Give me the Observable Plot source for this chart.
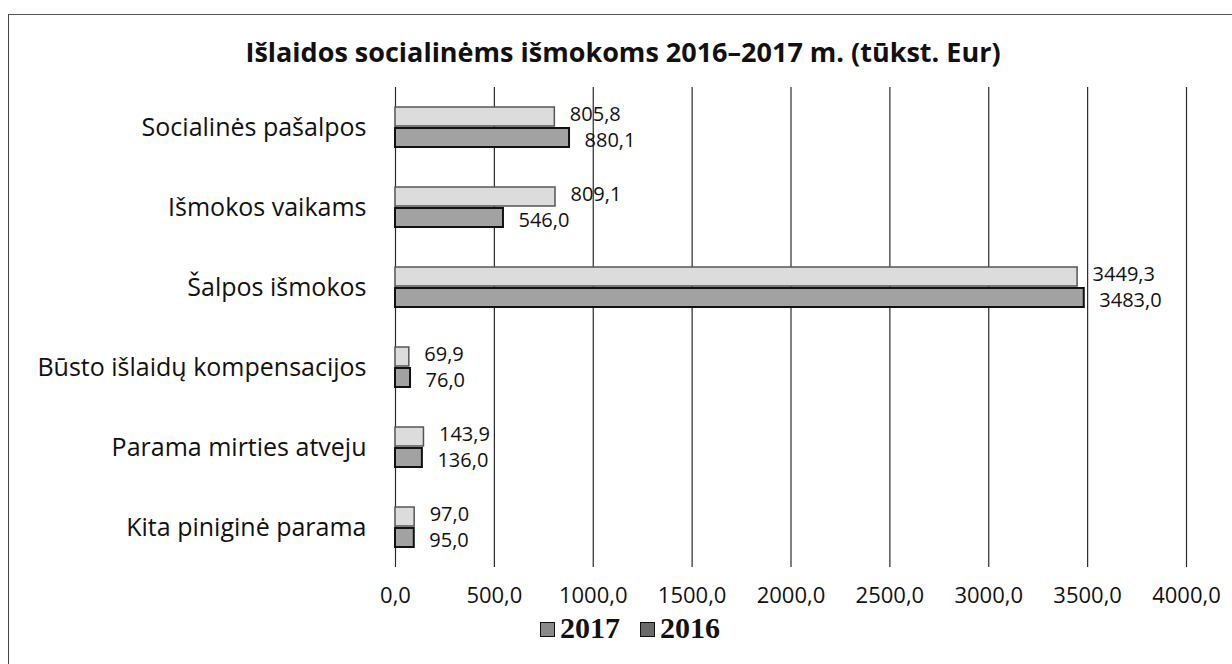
<!DOCTYPE html>
<html>
<head>
<meta charset="utf-8">
<script src="https://cdn.jsdelivr.net/npm/d3@7"></script>
<script src="https://cdn.jsdelivr.net/npm/@observablehq/plot@0.6"></script>
<style>
  html, body { margin: 0; padding: 0; background: #fff; }
  #wrap { position: relative; width: 1232px; height: 664px; overflow: hidden; background: #fff; }
  #border { position: absolute; left: 8px; top: 14px; width: 1400px; height: 800px;
            border-left: 1.5px solid #444; border-top: 1.5px solid #555; }
  #title { position: absolute; left: 0; top: 40px; width: 1246px; text-align: center;
           font-family: "Open Sans", sans-serif; font-weight: 700; font-size: 27px; line-height: 24px; color: #111; }
  #chart { position: absolute; left: 0; top: 70px; }
  #legend { position: absolute; left: 540px; top: 613px; display: flex; align-items: center;
            font-family: "Liberation Serif", "DejaVu Serif", serif; font-weight: 700; font-size: 30px; line-height: 30px; color: #111; }
  .sw { display: inline-block; width: 13px; height: 13px; margin-right: 5px; margin-top: 3px; }
  .item { display: flex; align-items: center; margin-right: 20px; }
</style>
</head>
<body>
<div id="wrap">
  <div id="border"></div>
  <div id="title">Išlaidos socialinėms išmokoms 2016–2017 m. (tūkst. Eur)</div>
  <div id="chart"></div>
  <div id="legend"></div>
</div>
<script>
const categories = ["Socialinės pašalpos", "Išmokos vaikams", "Šalpos išmokos", "Būsto išlaidų kompensacijos", "Parama mirties atveju", "Kita piniginė parama"];
const years = ["2017", "2016"];
const values2017 = [805.8, 809.1, 3449.3, 69.9, 143.9, 97.0];
const values2016 = [880.1, 546.0, 3483.0, 76.0, 136.0, 95.0];
const xTicks = [0, 500, 1000, 1500, 2000, 2500, 3000, 3500, 4000];

const yearStyle = {
  "2017": {fill: "#dcdcdc", stroke: "#555", strokeWidth: 1.5, dy: -2},
  "2016": {fill: "#a2a2a2", stroke: "#111", strokeWidth: 2, dy: 3}
};

const rows = [];
categories.forEach((c, i) => {
  rows.push({category: c, year: "2017", value: values2017[i]});
  rows.push({category: c, year: "2016", value: values2016[i]});
});
const fmt = v => v.toFixed(1).replace(".", ",");

const plot = Plot.plot({
  width: 1232,
  height: 545,
  marginLeft: 395,
  marginRight: 46,
  marginTop: 17,
  marginBottom: 48,
  style: {fontFamily: "'Open Sans', sans-serif", background: "transparent", color: "#111"},
  x: {domain: [0, 4000]},
  y: {domain: years, paddingInner: 0.1, paddingOuter: 0.95, axis: null},
  fy: {domain: categories, padding: 0},
  marks: [
    Plot.gridX(xTicks, {stroke: "#2a2a2a", strokeOpacity: 1, strokeWidth: 1.2}),
    ...years.map(yr => Plot.barX(rows.filter(d => d.year === yr), {
      x: "value", y: "year", fy: "category",
      fill: yearStyle[yr].fill, stroke: yearStyle[yr].stroke, strokeWidth: yearStyle[yr].strokeWidth
    })),
    ...years.map(yr => Plot.text(rows.filter(d => d.year === yr), {
      x: "value", y: "year", fy: "category", text: d => fmt(d.value),
      dx: 15, dy: yearStyle[yr].dy, textAnchor: "start", fontSize: 20, fill: "#111"
    })),
    Plot.axisX({ticks: xTicks, tickSize: 0, tickPadding: 20, fontSize: 22, tickFormat: fmt, label: null}),
    Plot.axisFy({anchor: "left", tickSize: 0, tickPadding: 29, fontSize: 25, label: null})
  ]
});
document.getElementById("chart").appendChild(plot);

const legend = document.getElementById("legend");
years.forEach(yr => {
  const item = document.createElement("div");
  item.className = "item";
  const sw = document.createElement("span");
  sw.className = "sw";
  sw.style.background = yr === "2017" ? "#8a8a8a" : "#6a6a6a";
  sw.style.border = "1px solid #111";
  const t = document.createElement("span");
  t.textContent = yr;
  item.appendChild(sw);
  item.appendChild(t);
  legend.appendChild(item);
});
</script>
</body>
</html>
